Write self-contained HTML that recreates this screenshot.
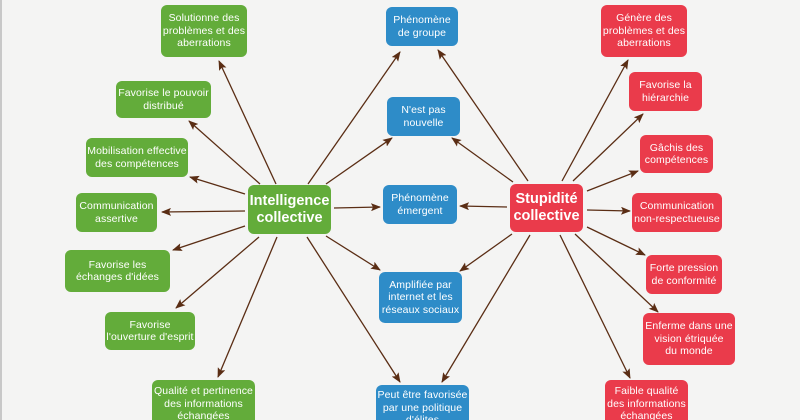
<!DOCTYPE html>
<html><head><meta charset="utf-8"><style>
html,body{margin:0;padding:0;width:800px;height:420px;overflow:hidden}
body{background:#f4f4f3;position:relative;font-family:"Liberation Sans",sans-serif}
.n{position:absolute;box-sizing:border-box;border-radius:6px;color:#fff;font-size:10.5px;line-height:12.5px;text-align:center;display:flex;align-items:center;justify-content:center;padding:0;white-space:nowrap;letter-spacing:0.1px}
.g{background:#63ac3a}.b{background:#2e8cc8}.r{background:#ea3b4b}
.big{font-size:14.5px;line-height:17px;font-weight:bold;letter-spacing:0}
svg{position:absolute;left:0;top:0}
</style></head><body>
<div style="position:absolute;left:0;top:0;width:2px;height:420px;background:#c8c8c8"></div>
<svg width="800" height="420">
<defs><marker id="a" markerWidth="10" markerHeight="8" refX="9" refY="4" orient="auto" markerUnits="userSpaceOnUse"><path d="M0,0 L10,4 L0,8 L2,4z" fill="#5a2d14"/></marker></defs>
<g stroke="#5a2d14" stroke-width="1.3" fill="none" marker-end="url(#a)">
<line x1="276" y1="184" x2="219" y2="61"/>
<line x1="260" y1="184" x2="189" y2="121"/>
<line x1="245" y1="194" x2="190" y2="177"/>
<line x1="245" y1="211" x2="162" y2="212"/>
<line x1="245" y1="226" x2="173" y2="250"/>
<line x1="259" y1="237" x2="176" y2="308"/>
<line x1="277" y1="237" x2="218" y2="377"/>
<line x1="334" y1="208" x2="380" y2="207"/>
<line x1="326" y1="236" x2="380" y2="270"/>
<line x1="307" y1="237" x2="400" y2="382"/>
<line x1="308" y1="184" x2="400" y2="52"/>
<line x1="326" y1="184" x2="392" y2="138"/>
<line x1="507" y1="207" x2="460" y2="206"/>
<line x1="528" y1="181" x2="438" y2="50"/>
<line x1="513" y1="182" x2="452" y2="138"/>
<line x1="512" y1="234" x2="460" y2="271"/>
<line x1="530" y1="235" x2="442" y2="382"/>
<line x1="562" y1="181" x2="628" y2="60"/>
<line x1="573" y1="181" x2="643" y2="114"/>
<line x1="587" y1="191" x2="638" y2="171"/>
<line x1="587" y1="210" x2="630" y2="211"/>
<line x1="587" y1="227" x2="645" y2="255"/>
<line x1="575" y1="234" x2="658" y2="312"/>
<line x1="560" y1="235" x2="630" y2="378"/>
</g></svg>
<div class="n g" style="left:161px;top:5px;width:86px;height:52px">Solutionne des<br>problèmes et des<br>aberrations</div>
<div class="n g" style="left:116px;top:81px;width:95px;height:37px">Favorise le pouvoir<br>distribué</div>
<div class="n g" style="left:86px;top:138px;width:102px;height:39px">Mobilisation effective<br>des compétences</div>
<div class="n g" style="left:76px;top:193px;width:81px;height:39px">Communication<br>assertive</div>
<div class="n g" style="left:65px;top:250px;width:105px;height:42px">Favorise les<br>échanges d'idées</div>
<div class="n g" style="left:105px;top:312px;width:90px;height:38px">Favorise<br>l'ouverture d'esprit</div>
<div class="n g" style="left:152px;top:380px;width:103px;height:40px;align-items:flex-start;padding-top:5px;border-radius:6px 6px 0 0">Qualité et pertinence<br>des informations<br>échangées</div>
<div class="n g big" style="left:248px;top:185px;width:83px;height:49px">Intelligence<br>collective</div>
<div class="n b" style="left:386px;top:7px;width:72px;height:39px">Phénomène<br>de groupe</div>
<div class="n b" style="left:387px;top:97px;width:73px;height:39px">N'est pas<br>nouvelle</div>
<div class="n b" style="left:383px;top:185px;width:74px;height:39px">Phénomène<br>émergent</div>
<div class="n b" style="left:379px;top:272px;width:83px;height:51px">Amplifiée par<br>internet et les<br>réseaux sociaux</div>
<div class="n b" style="left:376px;top:385px;width:93px;height:35px;align-items:flex-start;padding-top:4px;border-radius:6px 6px 0 0">Peut être favorisée<br>par une politique<br>d'élites</div>
<div class="n r big" style="left:510px;top:184px;width:73px;height:48px">Stupidité<br>collective</div>
<div class="n r" style="left:601px;top:5px;width:86px;height:52px">Génère des<br>problèmes et des<br>aberrations</div>
<div class="n r" style="left:629px;top:72px;width:73px;height:39px">Favorise la<br>hiérarchie</div>
<div class="n r" style="left:640px;top:135px;width:73px;height:38px">Gâchis des<br>compétences</div>
<div class="n r" style="left:632px;top:193px;width:90px;height:39px">Communication<br>non-respectueuse</div>
<div class="n r" style="left:646px;top:255px;width:76px;height:39px">Forte pression<br>de conformité</div>
<div class="n r" style="left:643px;top:313px;width:92px;height:52px">Enferme dans une<br>vision étriquée<br>du monde</div>
<div class="n r" style="left:605px;top:380px;width:83px;height:40px;align-items:flex-start;padding-top:5px;border-radius:6px 6px 0 0">Faible qualité<br>des informations<br>échangées</div>
</body></html>
